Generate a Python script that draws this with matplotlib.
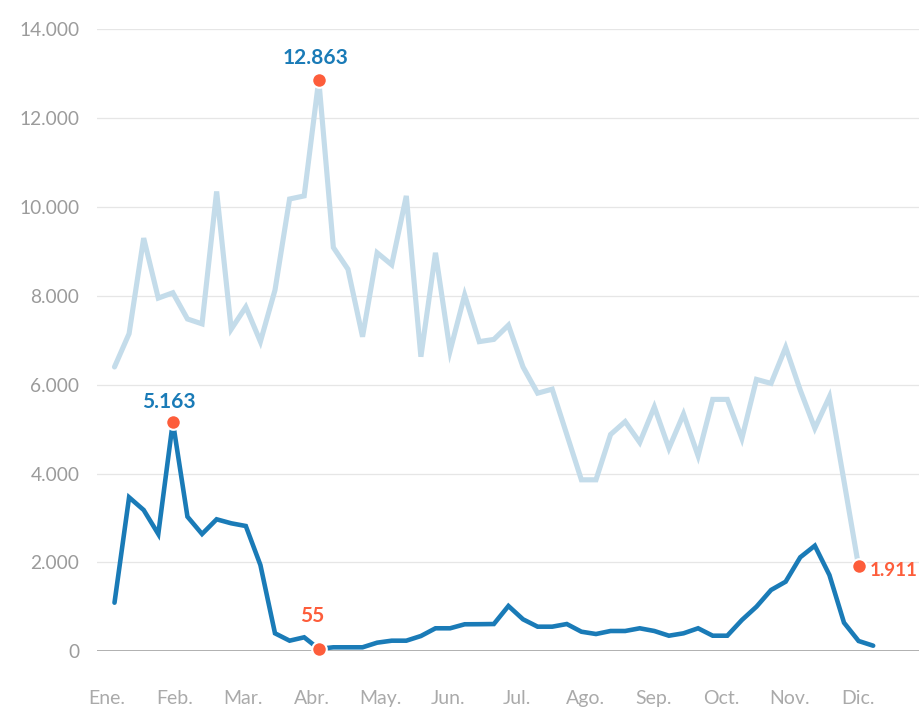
import numpy as np
import matplotlib
matplotlib.use("Agg")
import matplotlib.pyplot as plt

plt.rcParams['font.family'] = ['Lato', 'DejaVu Sans']

# ---- data ----
months = ["Ene.", "Feb.", "Mar.", "Abr.", "May.", "Jun.", "Jul.", "Ago.", "Sep.", "Oct.", "Nov.", "Dic."]
yticks = [0, 2000, 4000, 6000, 8000, 10000, 12000, 14000]
ytick_labels = ["0", "2.000", "4.000", "6.000", "8.000", "10.000", "12.000", "14.000"]

serie_clara = [6400, 7150, 9300, 7950, 8070, 7480, 7370, 10350, 7250, 7750,
               6970, 8130, 10180, 10250, 12863, 9090, 8600, 7080, 8970, 8700,
               10250, 6630, 8970, 6760, 8020, 6970, 7020, 7340, 6400, 5810,
               5900, 4880, 3860, 3860, 4880, 5170, 4700, 5500, 4570, 5340,
               4400, 5670, 5670, 4790, 6120, 6030, 6840, 5880, 5020, 5730,
               3830, 1911, np.nan]
serie_oscura = [1094, 3466, 3180, 2640, 5163, 3030, 2640, 2971, 2881, 2820,
                1942, 405, 239, 315, 55, 90, 90, 90, 194, 239,
                239, 344, 518, 518, 608, 610, 614, 1020, 720, 554,
                554, 614, 441, 389, 457, 457, 518, 457, 351, 405,
                518, 351, 351, 704, 1004, 1380, 1567, 2116, 2377, 1717,
                644, 232, 126]

c_light = "#c4dcea"
c_dark = "#1a7bb7"
c_dot = "#fd5d3b"
c_grid = "#e6e6e6"
c_tick = "#9b9b9b"

W, H = 919, 708
fig = plt.figure(figsize=(W / 100, H / 100), dpi=100)
left_px, right_px = 96.7, 919
bottom_px, top_px = 651.3, 29.3
ax = fig.add_axes([left_px / W, (H - bottom_px) / H, (right_px - left_px) / W, (bottom_px - top_px) / H])

x = np.arange(len(serie_oscura))
ax.plot(x, serie_clara, color=c_light, lw=3.7, solid_joinstyle='miter', solid_capstyle='round', zorder=3)
ax.plot(x, serie_oscura, color=c_dark, lw=3.3, solid_joinstyle='miter', solid_capstyle='round', zorder=4)

ax.set_xlim(-1.22, 55.14)
ax.set_ylim(0, 14000)

for v in yticks[1:]:
    ax.axhline(v, color=c_grid, lw=0.9, zorder=1)
ax.axhline(0, color="#999999", lw=1.8, zorder=2)

for s in ax.spines.values():
    s.set_visible(False)

ax.set_yticks(yticks)
ax.set_yticklabels(ytick_labels)
ax.tick_params(axis='y', length=0, pad=12.5, labelsize=13.8, labelcolor=c_tick)

ax.set_xticks(np.linspace(-0.53, 50.98, 12))
ax.set_xticklabels(months)
ax.tick_params(axis='x', length=0, pad=28, labelsize=14, labelcolor="#aaaaaa")

i_max_l = int(np.nanargmax(serie_clara))
i_max_d = int(np.argmax(serie_oscura))
i_min_d = int(np.argmin(serie_oscura))
i_last_l = int(np.where(~np.isnan(serie_clara))[0][-1])

def fmt(v):
    return f"{int(v):,}".replace(",", ".")

pts = [
    (i_max_l, serie_clara[i_max_l], c_dark, (-2, 16), 'center', 15),
    (i_max_d, serie_oscura[i_max_d], c_dark, (-3, 14), 'center', 15),
    (i_min_d, serie_oscura[i_min_d], c_dot, (-5, 24), 'center', 15),
    (i_last_l, serie_clara[i_last_l], c_dot, (8, -3), 'left', 13.5),
]
for xi, v, tc, off, ha, fs in pts:
    ax.plot([xi], [v], 'o', ms=10.5, mfc=c_dot, mec='white', mew=1.5, zorder=6, clip_on=False)
    ax.annotate(fmt(v), (xi, v), xytext=off, textcoords='offset points',
                ha=ha, va='center', fontsize=fs, fontweight='bold', color=tc,
                zorder=7, annotation_clip=False)

fig.savefig("out.png", dpi=100)
